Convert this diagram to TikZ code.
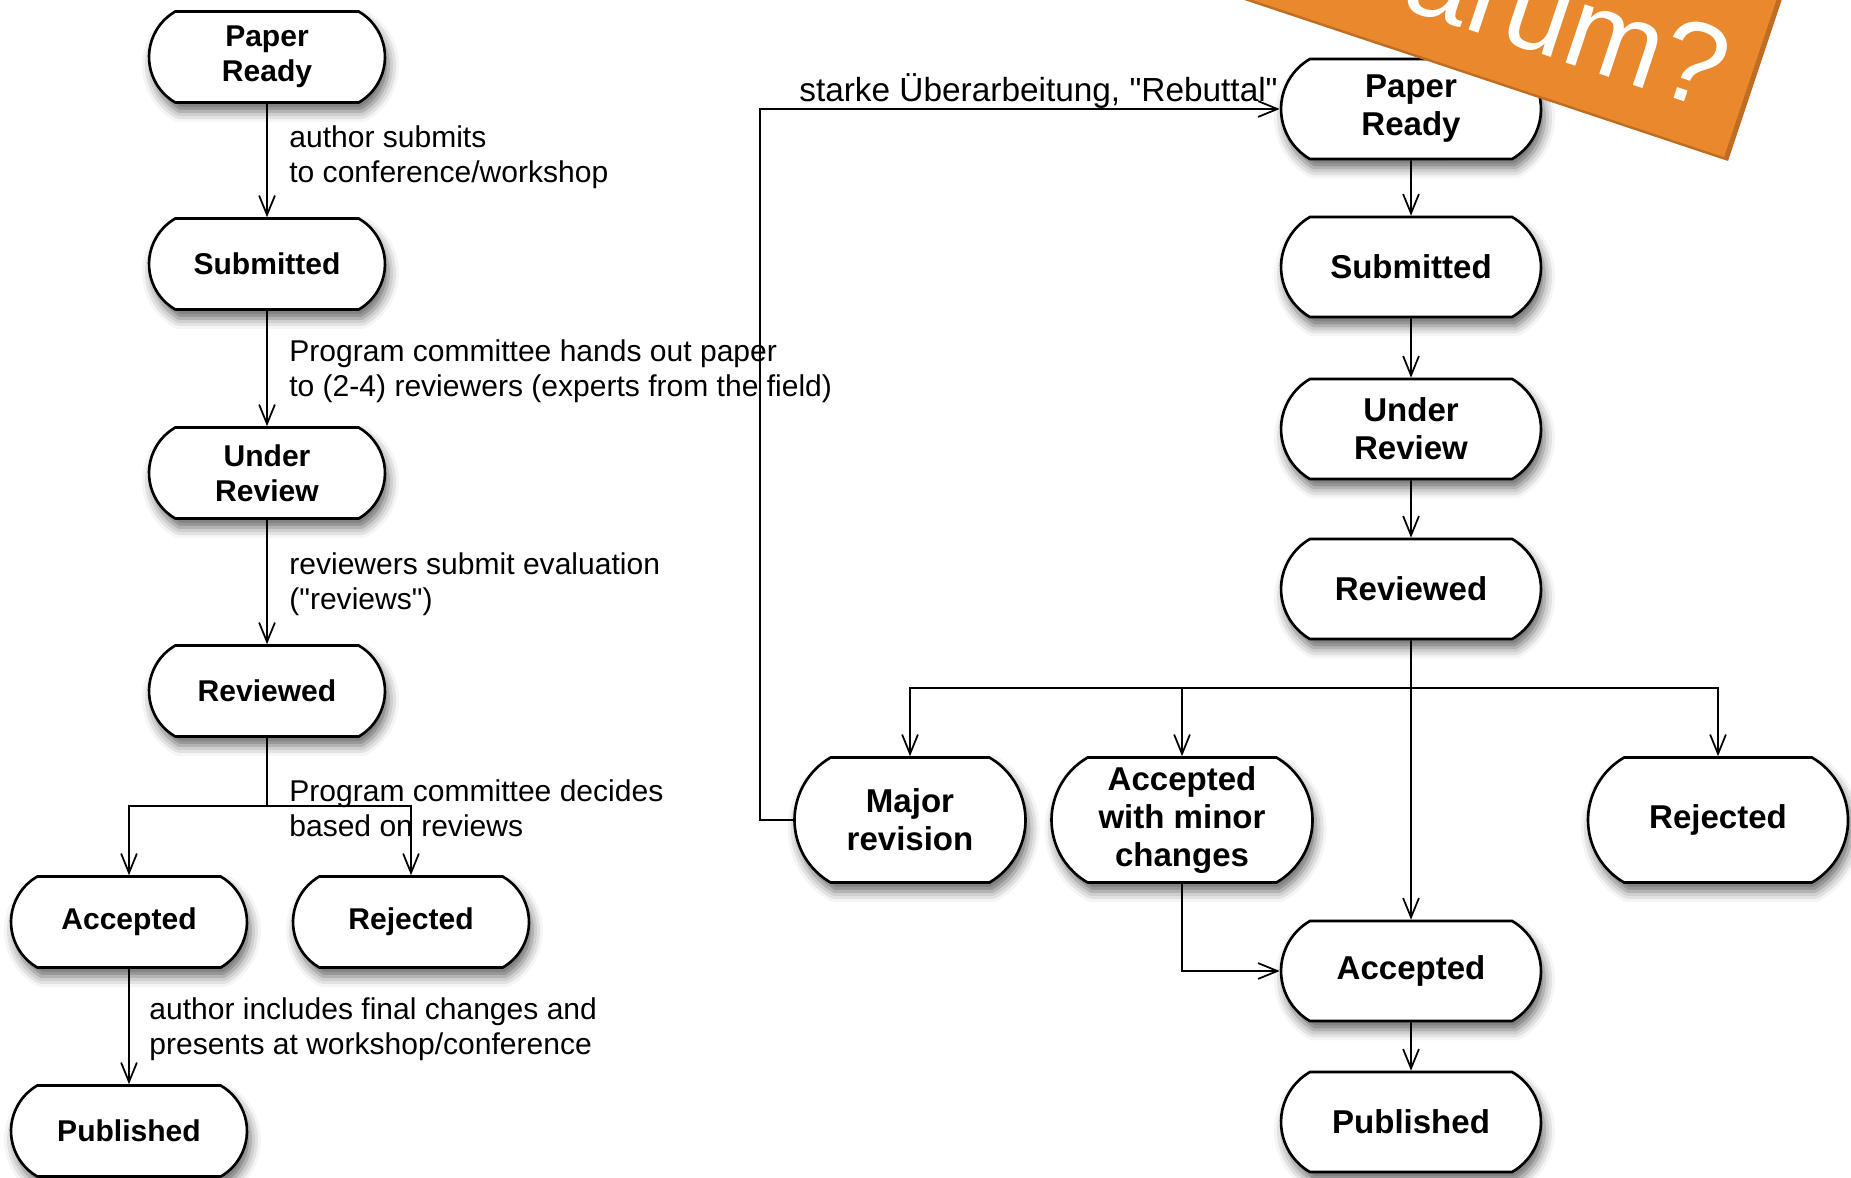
\documentclass[tikz,border=0pt]{standalone}
\usepackage{fontspec}
\setmainfont{Liberation Sans}
\usepackage{tikz}
\usetikzlibrary{arrows.meta, shapes.misc, shadows.blur}
\definecolor{bannerOrange}{HTML}{E9882C}
\definecolor{bannerEdge}{HTML}{C06C23}

\begin{document}
\begin{tikzpicture}[
        x=0.02cm, y=-0.02cm,
        state/.style={
            draw, fill=white,
            line width=1.5pt,
            rounded rectangle,
            rounded rectangle arc length=120,
            inner sep=0pt,
            align=center,
            blur shadow={shadow xshift=2pt, shadow yshift=-5pt,
                shadow blur radius=6pt, shadow opacity=60}
        },
        smallstate/.style={
            state,
            minimum width=4.72cm,
            minimum height=1.82cm,
            font=\fontsize{17.1}{20}\selectfont\bfseries
        },
        bigstate/.style={
            state,
            minimum width=5.2cm,
            minimum height=2cm,
            font=\fontsize{18.8}{21.6}\selectfont\bfseries
        },
        tallstate/.style={
            bigstate,
            minimum height=2.5cm
        },
        lbl/.style={
            font=\fontsize{17.1}{20}\selectfont,
            align=left,
            anchor=west,
            inner sep=0pt
        },
        flow/.style={
            line width=1pt,
            -{Straight Barb[length=11pt, width=9pt, line width=1pt]}
        }
    ]

    \useasboundingbox (0,0) rectangle (1851,1177);

    % left: the usual way
    \node[smallstate] (ready1) at (267,57)   {Paper\\Ready};
    \node[smallstate] (sub1)   at (267,264)  {Submitted};
    \node[smallstate] (under1) at (267,473)  {Under\\Review};
    \node[smallstate] (rev1)   at (267,691)  {Reviewed};
    \node[smallstate] (acc1)   at (129,922)  {Accepted};
    \node[smallstate] (rej1)   at (411,922)  {Rejected};
    \node[smallstate] (pub1)   at (129,1131) {Published};
    \coordinate (split1) at (267,806);

    \draw[flow] (ready1) -- (sub1);
    \draw[flow] (sub1) -- (under1);
    \draw[flow] (under1) -- (rev1);
    \draw[line width=1pt] (rev1) -- (split1);
    \draw[flow] (split1) -| (acc1);
    \draw[flow] (split1) -| (rej1);
    \draw[flow] (acc1) -- (pub1);

    \node[lbl] (txt1) at (289,157)  {author submits\\to conference/workshop};
    \node[lbl] (txt2) at (289,371)  {Program committee hands out paper\\to (2-4) reviewers (experts from the field)};
    \node[lbl] (txt3) at (289,584)  {reviewers submit evaluation\\(\textquotedbl reviews\textquotedbl)};
    \node[lbl] (txt4) at (289,808)  {Program committee decides\\based on reviews};
    \node[lbl] (txt5) at (149,1029) {author includes final changes and\\presents at workshop/conference};

    % right: with revision loop
    \node[bigstate]  (ready2) at (1411,109)  {Paper\\Ready};
    \node[bigstate]  (sub2)   at (1411,267)  {Submitted};
    \node[bigstate]  (under2) at (1411,429)  {Under\\Review};
    \node[bigstate]  (rev2)   at (1411,589)  {Reviewed};
    \node[tallstate, minimum width=4.62cm] (major) at (910,820) {Major\\revision};
    \node[tallstate, minimum width=5.22cm] (minor) at (1182,820) {Accepted\\with minor\\changes};
    \node[tallstate] (rej2)   at (1718,820)  {Rejected};
    \node[bigstate]  (acc2)   at (1411,971)  {Accepted};
    \node[bigstate]  (pub2)   at (1411,1122) {Published};
    \coordinate (split2) at (1411,688);
    \coordinate (loop)   at (760,820);

    \draw[flow] (ready2) -- (sub2);
    \draw[flow] (sub2) -- (under2);
    \draw[flow] (under2) -- (rev2);
    \draw[flow] (rev2) -- (acc2);
    \draw[flow] (split2) -| (major);
    \draw[flow] (split2) -| (minor);
    \draw[flow] (split2) -| (rej2);
    \draw[flow] (minor) |- (acc2);
    \draw[flow] (acc2) -- (pub2);
    \draw[flow] (major) -- (loop) |- (ready2);

    \node[lbl, anchor=base east, font=\fontsize{19}{22}\selectfont] (rebuttal) at (1278,101)
        {starke Überarbeitung, \textquotedbl Rebuttal\textquotedbl};

    % banner
    \begin{scope}
        \clip (0,0) rectangle (1851,1177);
        \fill[bannerEdge] (1728,161) -- (1064,-60) -- (1159,-345) -- (1823,-124) -- cycle;
        \fill[bannerOrange] (1724,157) -- (1060,-64) -- (1155,-349) -- (1819,-128) -- cycle;
        \node[white, rotate=-18.4, anchor=base east, inner sep=0pt,
            font=\fontsize{66}{66}\selectfont] (warum) at (1712,111) {Warum?};
    \end{scope}

\end{tikzpicture}
\end{document}
